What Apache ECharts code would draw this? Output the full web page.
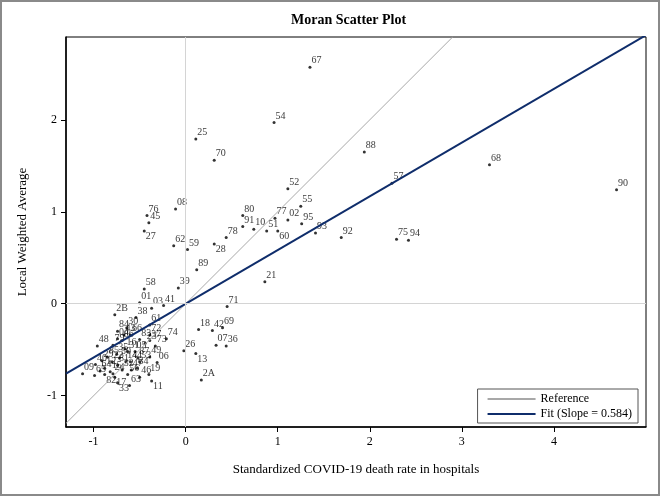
<!DOCTYPE html>
<html>
<head>
<meta charset="utf-8">
<script src="https://cdn.jsdelivr.net/npm/echarts@6/dist/echarts.min.js"></script>
<style>
html, body { margin: 0; padding: 0; background: #fff; }
#chart { width: 660px; height: 496px; }
</style>
</head>
<body>
<div id="chart"></div>
<script>
// department codes, standardized death rate (x), local weighted average (y)
var ids = ['67','54','25','70','88','57','52','55','80','77','02','91','10','51','60','95','93','92','75','94','68','90',
           '76','08','45','27','62','59','78','28','89','21','58','39','01','03','41','71','2B','84','38','61','43','72',
           '74','37','73','04','48','18','42','69','07','36','26','13','2A','49','06','53','19','11','46','63','33','17',
           '56','24','34','44','82','09','40',
           '83','23','05','16','35','85','22','29','50','14','12','81','31','15','32','47','64','65','66','79','86','87','30'];
var xs = [1.35, 0.96, 0.11, 0.31, 1.94, 2.24, 1.11, 1.25, 0.62, 0.97, 1.11, 0.62, 0.74, 0.88, 1.00, 1.26, 1.41, 1.69, 2.29, 2.42, 3.30, 4.68,
          -0.42, -0.11, -0.40, -0.45, -0.13, 0.02, 0.44, 0.31, 0.12, 0.86, -0.45, -0.08, -0.50, -0.37, -0.24, 0.45, -0.77, -0.74, -0.54, -0.39, -0.67, -0.39,
          -0.21, -0.39, -0.33, -0.74, -0.96, 0.14, 0.29, 0.40, 0.33, 0.44, -0.02, 0.11, 0.17, -0.39, -0.31, -0.50, -0.40, -0.37, -0.50, -0.61, -0.74, -0.77,
          -0.63, -0.79, -0.53, -0.60, -0.88, -1.12, -0.98,
          -0.50, -0.44, -0.55, -0.66, -0.75, -0.85, -0.80, -0.91, -0.72, -0.65, -0.88, -0.74, -0.63, -0.82, -0.69, -0.59, -0.93, -0.99, -0.60, -0.79, -0.69, -0.52, -0.64];
var ys = [2.57, 1.97, 1.79, 1.56, 1.65, 1.31, 1.25, 1.06, 0.96, 0.93, 0.91, 0.84, 0.81, 0.79, 0.79, 0.87, 0.77, 0.72, 0.70, 0.69, 1.51, 1.24,
          0.96, 1.03, 0.88, 0.79, 0.63, 0.59, 0.72, 0.65, 0.37, 0.24, 0.16, 0.17, 0.01, -0.05, -0.02, -0.03, -0.12, -0.30, -0.15, -0.23, -0.34, -0.34,
          -0.38, -0.40, -0.46, -0.38, -0.46, -0.28, -0.29, -0.26, -0.45, -0.46, -0.51, -0.54, -0.83, -0.58, -0.64, -0.63, -0.77, -0.84, -0.80, -0.89, -0.86, -0.80,
          -0.77, -0.76, -0.70, -0.63, -0.77, -0.76, -0.66,
          -0.39, -0.43, -0.52, -0.49, -0.55, -0.58, -0.63, -0.62, -0.59, -0.63, -0.70, -0.67, -0.52, -0.74, -0.72, -0.72, -0.73, -0.78, -0.34, -0.45, -0.40, -0.59, -0.26];

var xTicks = [-1, 0, 1, 2, 3, 4];
var yTicks = [-1, 0, 1, 2];
var xRange = [-1.3, 5.0];
var yRange = [-1.34, 2.9];
var slope = 0.584;

// labels drawn under the point instead of above
var labelBelow = ['60', '28', '13', '33', '11', '27', '17', '82'];

var serif = '"Liberation Serif", "DejaVu Serif", serif';

var points = ids.map(function (id, i) {
    var p = { name: id, value: [xs[i], ys[i]] };
    if (labelBelow.indexOf(id) >= 0) {
        p.label = { position: [3, 2] };
    }
    return p;
});

var chart = echarts.init(document.getElementById('chart'));

var option = {
    animation: false,
    title: {
        text: 'Moran Scatter Plot',
        left: 286,
        top: 8,
        textStyle: { fontFamily: serif, fontSize: 14, fontWeight: 'bold', color: '#000' }
    },
    grid: {
        left: 66, right: 14, top: 37, bottom: 69,
        show: true, borderColor: '#000', borderWidth: 1, backgroundColor: '#fff'
    },
    legend: {
        data: ['Reference', 'Fit (Slope = 0.584)'],
        orient: 'vertical',
        right: 22,
        bottom: 73,
        icon: 'rect',
        itemWidth: 48,
        itemHeight: 2,
        itemGap: 3,
        padding: [4, 6, 3, 10],
        borderColor: '#555',
        borderWidth: 1,
        backgroundColor: '#fff',
        textStyle: { fontFamily: serif, fontSize: 12, color: '#000' }
    },
    xAxis: {
        type: 'value',
        min: xRange[0], max: xRange[1],
        name: 'Standardized COVID-19 death rate in hospitals',
        nameLocation: 'middle', nameGap: 36,
        nameTextStyle: { fontFamily: serif, fontSize: 13, color: '#000' },
        splitLine: { show: false },
        axisLine: { onZero: false, lineStyle: { color: '#000', width: 1.5 } },
        axisTick: { show: true, length: 5, customValues: xTicks, lineStyle: { color: '#000' } },
        axisLabel: { customValues: xTicks, fontFamily: serif, fontSize: 12, color: '#000', margin: 9 }
    },
    yAxis: {
        type: 'value',
        min: yRange[0], max: yRange[1],
        name: 'Local Weighted Average',
        nameLocation: 'middle', nameGap: 37,
        nameTextStyle: { fontFamily: serif, fontSize: 13, color: '#000' },
        splitLine: { show: false },
        axisLine: { onZero: false, lineStyle: { color: '#000', width: 1.5 } },
        axisTick: { show: true, length: 5, customValues: yTicks, lineStyle: { color: '#000' } },
        axisLabel: { customValues: yTicks, fontFamily: serif, fontSize: 12, color: '#000', margin: 9 }
    },
    graphic: [{
        type: 'rect',
        shape: { x: 1, y: 1, width: 658, height: 494 },
        style: { fill: 'none', stroke: '#8a8a8a', lineWidth: 2 },
        silent: true
    }],
    series: [
        {
            name: 'zero',
            type: 'line',
            data: [],
            markLine: {
                silent: true,
                symbol: 'none',
                label: { show: false },
                lineStyle: { color: '#d4d4d4', type: 'solid', width: 1 },
                data: [{ xAxis: 0 }, { yAxis: 0 }]
            }
        },
        {
            name: 'Reference',
            type: 'line',
            showSymbol: false,
            symbol: 'none',
            color: '#a8a8a8',
            lineStyle: { color: '#a8a8a8', width: 1 },
            data: [[xRange[0], xRange[0]], [yRange[1], yRange[1]]]
        },
        {
            name: 'Fit (Slope = 0.584)',
            type: 'line',
            showSymbol: false,
            symbol: 'none',
            color: '#0f2d6b',
            lineStyle: { color: '#0f2d6b', width: 2 },
            data: [[xRange[0], xRange[0] * slope], [xRange[1], xRange[1] * slope]]
        },
        {
            name: 'points',
            type: 'scatter',
            symbolSize: 3,
            itemStyle: { color: '#000' },
            label: {
                show: true,
                formatter: '{b}',
                position: [3, -10],
                fontFamily: serif,
                fontSize: 10,
                color: '#000'
            },
            labelLayout: { hideOverlap: false },
            data: points
        }
    ]
};

chart.setOption(option);
</script>
</body>
</html>
